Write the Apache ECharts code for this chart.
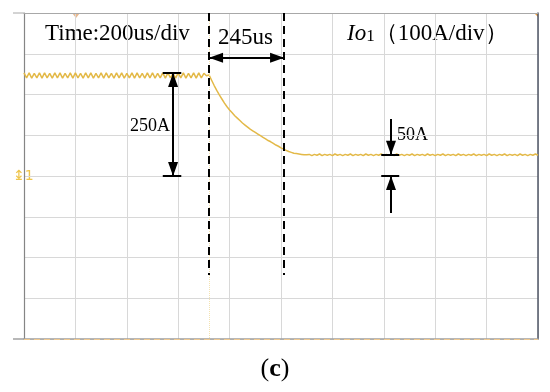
<!DOCTYPE html>
<html><head><meta charset="utf-8">
<script src="https://cdn.jsdelivr.net/npm/echarts@6/dist/echarts.min.js"></script>
<style>html,body{margin:0;padding:0;background:#fff;}#c{width:550px;height:392px;}</style>
</head><body><div id="c"></div>
<script>
// ---- data ----
const sampleIntervalUs = 10;            // one sample every 10 us
const timeRangeUs = [0, 2000];          // 10 div x 200 us/div
const timeDivUs = 200;
const currentRangeA = [-400, 400];      // 8 div x 100 A/div, ground mark at 0
const currentDivA = 100;

// Io1 before the step (0 .. 710 us), ripple around ~247 A
const rippleSegmentA = [
  253,241,253,240,252,241,253,240,253,241,252,240,253,241,253,240,252,241,253,240,
  253,241,252,240,253,241,253,240,252,241,253,240,253,241,252,240,253,241,253,240,
  252,241,253,240,253,241,252,240,253,241,253,240,252,241,253,240,253,241,252,240,
  253,241,253,240,252,241,253,240,253,241,252,246
];
// decay (720 .. 1100 us)
const decaySegmentA = [
  248,235,222,210,199,189,179,170,162,155,148,142,136,130,125,120,115,111,107,103,
  99,95,91,87,84,80,76,73,69,66,63,60,58,56,55,54,53,52,52
];
// settled level (1110 .. 2000 us), ~52 A
const settledSegmentA = [
  53,50,53,51,54,50,53,51,53,50,
  54,51,53,50,53,51,54,50,53,51,
  53,50,54,51,53,50,53,51,54,50,
  53,51,53,50,54,51,53,50,53,51,
  54,50,53,51,53,50,54,51,53,50,
  53,51,54,50,53,51,53,50,54,51,
  53,50,53,51,54,50,53,51,53,50,
  54,51,53,50,53,51,54,50,53,51,
  53,50,54,51,53,50,53,51,54,51
];

// annotation values (data units)
const cursorStartUs = 720;
const cursorEndUs = 1012;
const stepTopA = 253;
const settledA = 52;
const stepArrowUs = 580;
const settledArrowUs = 1428;
const durationArrowA = 290;

const waveA = rippleSegmentA.concat(decaySegmentA, settledSegmentA);
const waveData = waveA.map((v, i) => [i * sampleIntervalUs, v]);

const black = '#000';
const seg = (a, b, s0, s1, style) => [
  {coord: a, symbol: s0, symbolSize: [10, 14], symbolOffset: [0, 7]},
  {coord: b, symbol: s1, symbolSize: [10, 14], symbolOffset: [0, 7], lineStyle: style}
];
const solid = {color: black, width: 2, type: 'solid'};
const dashed = {color: black, width: 2, type: [8, 5]};

const chart = echarts.init(document.getElementById('c'), null, {renderer: 'canvas'});
chart.setOption({
  animation: false,
  backgroundColor: '#fff',
  grid: {left: 24, right: 12, top: 13, bottom: 53},
  xAxis: [
    {type: 'value', min: timeRangeUs[0], max: timeRangeUs[1], interval: timeDivUs, position: 'bottom',
     axisLine: {show: true, onZero: false, lineStyle: {color: '#a0a0a0', width: 1.5}},
     axisTick: {show: false}, axisLabel: {show: false},
     splitLine: {show: true, lineStyle: {color: '#d8d8d8', width: 1}}},
    {type: 'value', min: timeRangeUs[0], max: timeRangeUs[1], interval: timeDivUs, position: 'top',
     axisLine: {show: true, onZero: false, lineStyle: {color: '#a8a8a8', width: 1}},
     axisTick: {show: false}, axisLabel: {show: false}, splitLine: {show: false}}
  ],
  yAxis: [
    {type: 'value', min: currentRangeA[0], max: currentRangeA[1], interval: currentDivA, position: 'left',
     axisLine: {show: true, onZero: false, lineStyle: {color: '#858585', width: 1.2}},
     axisTick: {show: false}, axisLabel: {show: false},
     splitLine: {show: true, lineStyle: {color: '#d8d8d8', width: 1}}},
    {type: 'value', min: currentRangeA[0], max: currentRangeA[1], interval: currentDivA, position: 'right',
     axisLine: {show: true, onZero: false, lineStyle: {color: '#4f5666', width: 1.5}},
     axisTick: {show: false}, axisLabel: {show: false}, splitLine: {show: false}}
  ],
  series: [
    {
      type: 'line', xAxisIndex: 0, yAxisIndex: 0, data: waveData, showSymbol: false, silent: true,
      lineStyle: {color: '#e3b948', width: 1.5},
      z: 3
    },
    {
      type: 'line', xAxisIndex: 0, yAxisIndex: 0, data: [], silent: true, z: 5,
      markLine: {
        silent: true, animation: false, label: {show: false},
        lineStyle: solid,
        data: [
          // faint scope cursor
          seg([cursorStartUs, currentRangeA[1]], [cursorStartUs, currentRangeA[0]], 'none', 'none', {color: '#f3e2b0', width: 1, type: 'dotted'}),
          // bottom trace dashes
          seg([timeRangeUs[0], currentRangeA[0]], [timeRangeUs[1], currentRangeA[0]], 'none', 'none', {color: '#efc88e', width: 1, type: [6, 4]}),
          // dashed cursors
          seg([cursorStartUs, currentRangeA[1]], [cursorStartUs, -243], 'none', 'none', dashed),
          seg([cursorEndUs, currentRangeA[1]], [cursorEndUs, -243], 'none', 'none', dashed),
          // 245us arrow
          seg([cursorStartUs, durationArrowA], [cursorEndUs, durationArrowA], 'triangle', 'triangle', solid),
          // 250A arrow
          seg([stepArrowUs, stepTopA], [stepArrowUs, 0], 'triangle', 'triangle', solid),
          seg([stepArrowUs - 40, stepTopA], [stepArrowUs + 32, stepTopA], 'none', 'none', solid),
          seg([stepArrowUs - 40, 0], [stepArrowUs + 32, 0], 'none', 'none', solid),
          // 50A arrows
          seg([settledArrowUs, 140], [settledArrowUs, settledA], 'none', 'triangle', solid),
          seg([settledArrowUs, -91], [settledArrowUs, 0], 'none', 'triangle', solid),
          seg([settledArrowUs - 38, settledA], [settledArrowUs + 32, settledA], 'none', 'none', solid),
          seg([settledArrowUs - 38, 0], [settledArrowUs + 32, 0], 'none', 'none', solid)
        ]
      }
    }
  ],
  graphic: [
    {type: 'line', shape: {x1: 13, y1: 13, x2: 24, y2: 13}, style: {stroke: '#a8a8a8', lineWidth: 1}},
    {type: 'line', shape: {x1: 13, y1: 339, x2: 24, y2: 339}, style: {stroke: '#a0a0a0', lineWidth: 1.5}},
    {type: 'polygon', shape: {points: [[72, 13], [80, 13], [76, 18]]}, style: {fill: '#e9b98f'}},
    {type: 'polygon', shape: {points: [[534, 13], [539, 13], [539, 18]]}, style: {fill: '#eea040'}},
    {type: 'text', style: {x: 13, y: 176, text: '↨1', font: '14px "DejaVu Sans"', fill: '#efc54a', verticalAlign: 'middle'}},
    {type: 'text', style: {x: 45, y: 34, text: 'Time:200us/div', font: '23px "Liberation Serif"', fill: '#000', verticalAlign: 'middle'}},
    {type: 'text', style: {x: 218, y: 38, text: '245us', font: '23px "Liberation Serif"', fill: '#000', verticalAlign: 'middle'}},
    {type: 'text', style: {x: 347, y: 34, text: '{it|Io}{s|1}{n|（100A/div）}', fill: '#000', verticalAlign: 'middle',
      rich: {
        it: {fontSize: 23, fontStyle: 'italic', fontFamily: 'Liberation Serif'},
        s: {fontSize: 17, fontFamily: 'Liberation Serif', verticalAlign: 'bottom'},
        n: {fontSize: 23, fontFamily: 'Liberation Serif'}
      }}},
    {type: 'text', style: {x: 130, y: 126, text: '250A', font: '18px "Liberation Serif"', fill: '#000', verticalAlign: 'middle'}},
    {type: 'text', style: {x: 397, y: 135, text: '50A', font: '18px "Liberation Serif"', fill: '#000', verticalAlign: 'middle'}},
    {type: 'text', style: {x: 275, y: 369, text: '{a|(}{b|c}{a|)}', align: 'center', verticalAlign: 'middle',
      rich: {
        a: {fontSize: 26, fontFamily: 'Liberation Serif'},
        b: {fontSize: 26, fontFamily: 'Liberation Serif', fontWeight: 'bold'}
      }}}
  ]
});
</script></body></html>
